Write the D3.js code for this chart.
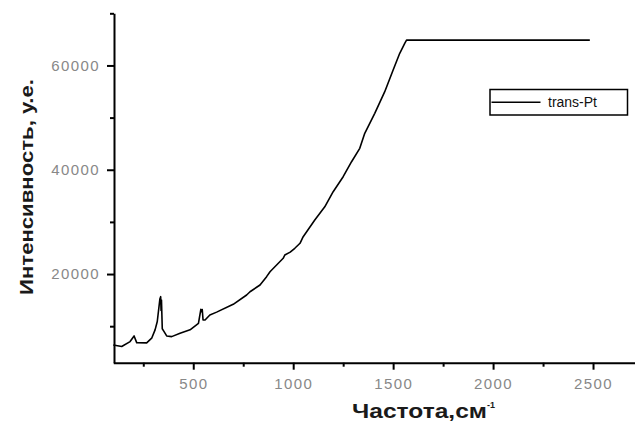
<!DOCTYPE html>
<html><head><meta charset="utf-8">
<script src="https://cdn.jsdelivr.net/npm/d3@7"></script>
<style>body{margin:0;background:#fff}svg{display:block}</style>
</head><body>
<svg id="c" width="635" height="423"></svg>
<script>
const freq = [100,142,184,204,217,267,292,309,320,333,337,339,341,345,354,367,392,434,484,526,538,542,545,549,559,583,617,692,700,767,784,834,867,884,950,958,985,1008,1034,1050,1108,1158,1200,1250,1292,1333,1358,1408,1458,1500,1533,1558,1567,2484];
const intensity = [6400,6100,7050,8130,6850,6800,7700,9300,10900,15200,15660,13000,15000,9500,8960,8130,8000,8650,9300,10560,13240,12800,13200,11200,11200,12150,12700,14070,14200,15980,16600,17900,19500,20450,23020,23650,24200,24940,25900,27160,30360,32900,35790,38670,41540,44110,46990,50820,54970,59130,62330,64250,64850,64850];
const xTicks = [500,1000,1500,2000,2500];
const xMinor = [250,750,1250,1750,2250];
const yTicks = [20000,40000,60000];
const yMinor = [10000,30000,50000,70000];
const seriesName = "trans-Pt";

const svg = d3.select("#c");
const x = d3.scaleLinear().domain([100,2710]).range([113.3,635]);
const y = d3.scaleLinear().domain([3000,70000]).range([362.7,13.3]);

const font = "'Liberation Sans', Arial, sans-serif";

// minor ticks
svg.append("g").attr("transform","translate(0,362.7)")
  .call(d3.axisBottom(x).tickValues(xMinor).tickSize(4).tickFormat(""))
  .call(g=>g.select(".domain").remove())
  .selectAll("line").attr("stroke","#000").attr("stroke-width",2);
svg.append("g").attr("transform","translate(114,0)")
  .call(d3.axisLeft(y).tickValues(yMinor).tickSize(4).tickFormat(""))
  .call(g=>g.select(".domain").remove())
  .selectAll("line").attr("stroke","#000").attr("stroke-width",2);

// major axes
const gx = svg.append("g").attr("transform","translate(0,362.7)")
  .call(d3.axisBottom(x).tickValues(xTicks).tickSize(7).tickSizeOuter(0).tickPadding(9).tickFormat(d3.format("d")));
const gy = svg.append("g").attr("transform","translate(114,0)")
  .call(d3.axisLeft(y).tickValues(yTicks).tickSize(7).tickSizeOuter(0).tickPadding(7).tickFormat(d3.format("d")));
[gx,gy].forEach(g=>{
  g.select(".domain").attr("stroke","#000").attr("stroke-width",2);
  g.selectAll(".tick line").attr("stroke","#000").attr("stroke-width",2);
  g.selectAll(".tick text").attr("fill","#888").attr("font-family",font)
    .attr("font-size",15).attr("letter-spacing","1.4px");
});

// line
const line = d3.line().x((d,i)=>x(freq[i])).y(d=>y(d));
svg.append("path").datum(intensity).attr("d",line)
  .attr("fill","none").attr("stroke","#000").attr("stroke-width",1.6).attr("stroke-linejoin","round");

// legend
const lg = svg.append("g");
lg.append("rect").attr("x",490).attr("y",89.5).attr("width",137.5).attr("height",25.5)
  .attr("fill","#fff").attr("stroke","#000").attr("stroke-width",1.5);
lg.append("line").attr("x1",491.5).attr("x2",540.5).attr("y1",102.3).attr("y2",102.3)
  .attr("stroke","#000").attr("stroke-width",1.6);
lg.append("text").attr("x",548).attr("y",107).attr("font-family",font).attr("font-size",14)
  .attr("fill","#111").text(seriesName);

// axis titles
svg.append("text").attr("transform","translate(33,187) rotate(-90)")
  .attr("text-anchor","middle").attr("font-family",font).attr("font-weight","bold")
  .attr("font-size",18).attr("fill","#1a1a1a").attr("textLength",216).attr("lengthAdjust","spacingAndGlyphs")
  .text("Интенсивность, у.е.");
const xt = svg.append("text").attr("x",352).attr("y",418).attr("font-family",font)
  .attr("font-weight","bold").attr("font-size",20).attr("fill","#1a1a1a");
xt.append("tspan").attr("textLength",135).attr("lengthAdjust","spacingAndGlyphs").text("Частота,см");
xt.append("tspan").attr("font-size",9).attr("dy",-10).text("-1");
</script>
</body></html>
